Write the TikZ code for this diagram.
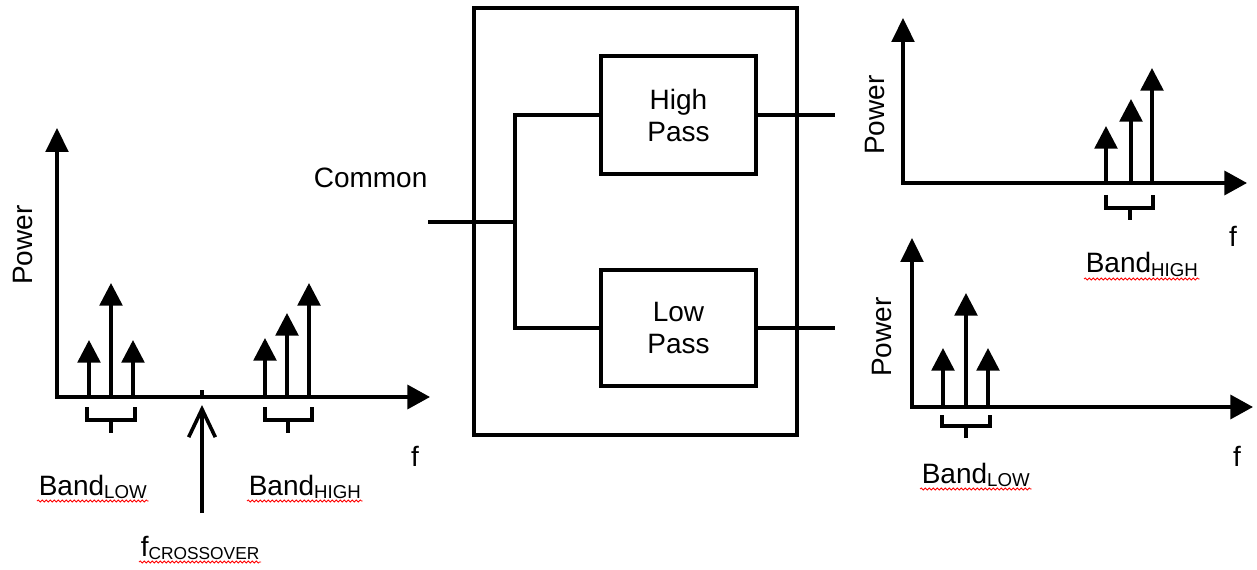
\documentclass[tikz,border=0pt]{standalone}
\usepackage{fontspec}
\setmainfont{Liberation Sans}
\usetikzlibrary{arrows.meta,decorations.pathmorphing}
\newcommand\lsub[2][14]{\raisebox{-2.4pt}{\fontsize{#1}{#1}\selectfont #2}}
\begin{document}
\begin{tikzpicture}[x=0.75pt,y=-0.75pt, line width=2.7pt,
  spike/.style={-{Triangle[width=17pt,length=17pt]}},
  axes/.style={{Triangle[width=17pt,length=18pt]}-{Triangle[width=18pt,length=17pt]}},
  brk/.style={line width=2.3pt},
  wire/.style={line width=2.6pt},
  lbl/.style={font=\fontsize{21}{24}\selectfont, inner sep=0pt},
  box/.style={draw, line width=2.7pt, inner sep=0pt, align=center, font=\fontsize{21}{24}\selectfont},
  spell/.style={draw=red, line width=0.6pt, decorate, decoration={snake, amplitude=0.8pt, segment length=3pt}}
]
\useasboundingbox (0,0) rectangle (1257,570);

% ---------- left spectrum ----------
\coordinate (o1) at (57,397);
\draw[axes] (57,128) -- (o1) -- (430,397);
\node[lbl, rotate=90] (pw1) at (23,245) {Power};
\draw[spike] (89,397) -- (89,340);
\draw[spike] (111,397) -- (111,283);
\draw[spike] (133,397) -- (133,340);
\draw[brk] (87,407) -- (87,420) -- (135,420) -- (135,407) (111,420) -- (111,433);
\draw[spike] (265,397) -- (265,338);
\draw[spike] (287,397) -- (287,313);
\draw[spike] (309,397) -- (309,283);
\draw[brk] (265,407) -- (265,420) -- (312,420) -- (312,407) (288,420) -- (288,433);
\draw (202,390) -- (202,397);
\coordinate (cxs) at (202,513);
\coordinate (cxt) at (202,405);
\draw[-{Straight Barb[length=21pt,width=20pt]}] (cxs) -- (cxt);
\node[lbl] (f1) at (415,456) {f};
\node[lbl, anchor=base west] (bl1) at (37,495) {Band\lsub{LOW}};
\node[lbl, anchor=base west] (bh1) at (247,495) {Band\lsub{HIGH}};
\node[lbl, anchor=base west] (fc) at (139,556) {f\lsub[13]{CROSSOVER}};
\draw[spell] ([yshift=-4.5pt]bl1.base west) -- ([yshift=-4.5pt]bl1.base east);
\draw[spell] ([yshift=-4.5pt]bh1.base west) -- ([yshift=-4.5pt]bh1.base east);
\draw[spell] ([yshift=-4.5pt]fc.base west) -- ([yshift=-4.5pt]fc.base east);

% ---------- diplexer ----------
\node[box, minimum width=242pt, minimum height=320pt] (outer) at (635.5,221.5) {};
\node[box, minimum width=116pt, minimum height=88.5pt] (hp) at (678.5,115) {High\\Pass};
\node[box, minimum width=116pt, minimum height=87pt] (lp) at (678.5,328) {Low\\Pass};
\node[lbl, anchor=base west] (common) at (312,188) {Common};
\coordinate (cin) at (428,222);
\coordinate (jn) at (515,222);
\draw[wire] (cin) -- (jn);
\draw[wire] (hp.west) -| (jn) |- (lp.west);
\coordinate (hout) at (835,115);
\coordinate (lout) at (835,328);
\draw[wire] (hp.east) -- (hout);
\draw[wire] (lp.east) -- (lout);

% ---------- top-right spectrum ----------
\coordinate (o2) at (903,183);
\draw[axes] (903,18) -- (o2) -- (1247,183);
\node[lbl, rotate=90] (pw2) at (875,115) {Power};
\draw[spike] (1106,183) -- (1106,126);
\draw[spike] (1131,183) -- (1131,99);
\draw[spike] (1152,183) -- (1152,68);
\draw[brk] (1106,195) -- (1106,208) -- (1153,208) -- (1153,195) (1130,208) -- (1130,220);
\node[lbl] (f2) at (1233,236) {f};
\node[lbl, anchor=base west] (bh2) at (1084,273) {Band\lsub{HIGH}};
\draw[spell] ([yshift=-4.5pt]bh2.base west) -- ([yshift=-4.5pt]bh2.base east);

% ---------- bottom-right spectrum ----------
\coordinate (o3) at (912,407);
\draw[axes] (912,238) -- (o3) -- (1253,407);
\node[lbl, rotate=90] (pw3) at (882,337) {Power};
\draw[spike] (943,407) -- (943,348);
\draw[spike] (966,407) -- (966,293);
\draw[spike] (988,407) -- (988,348);
\draw[brk] (942,415) -- (942,426) -- (990,426) -- (990,415) (966,426) -- (966,438);
\node[lbl] (f3) at (1237,456) {f};
\node[lbl, anchor=base west] (bl3) at (920,483) {Band\lsub{LOW}};
\draw[spell] ([yshift=-4.5pt]bl3.base west) -- ([yshift=-4.5pt]bl3.base east);
\end{tikzpicture}
\end{document}
